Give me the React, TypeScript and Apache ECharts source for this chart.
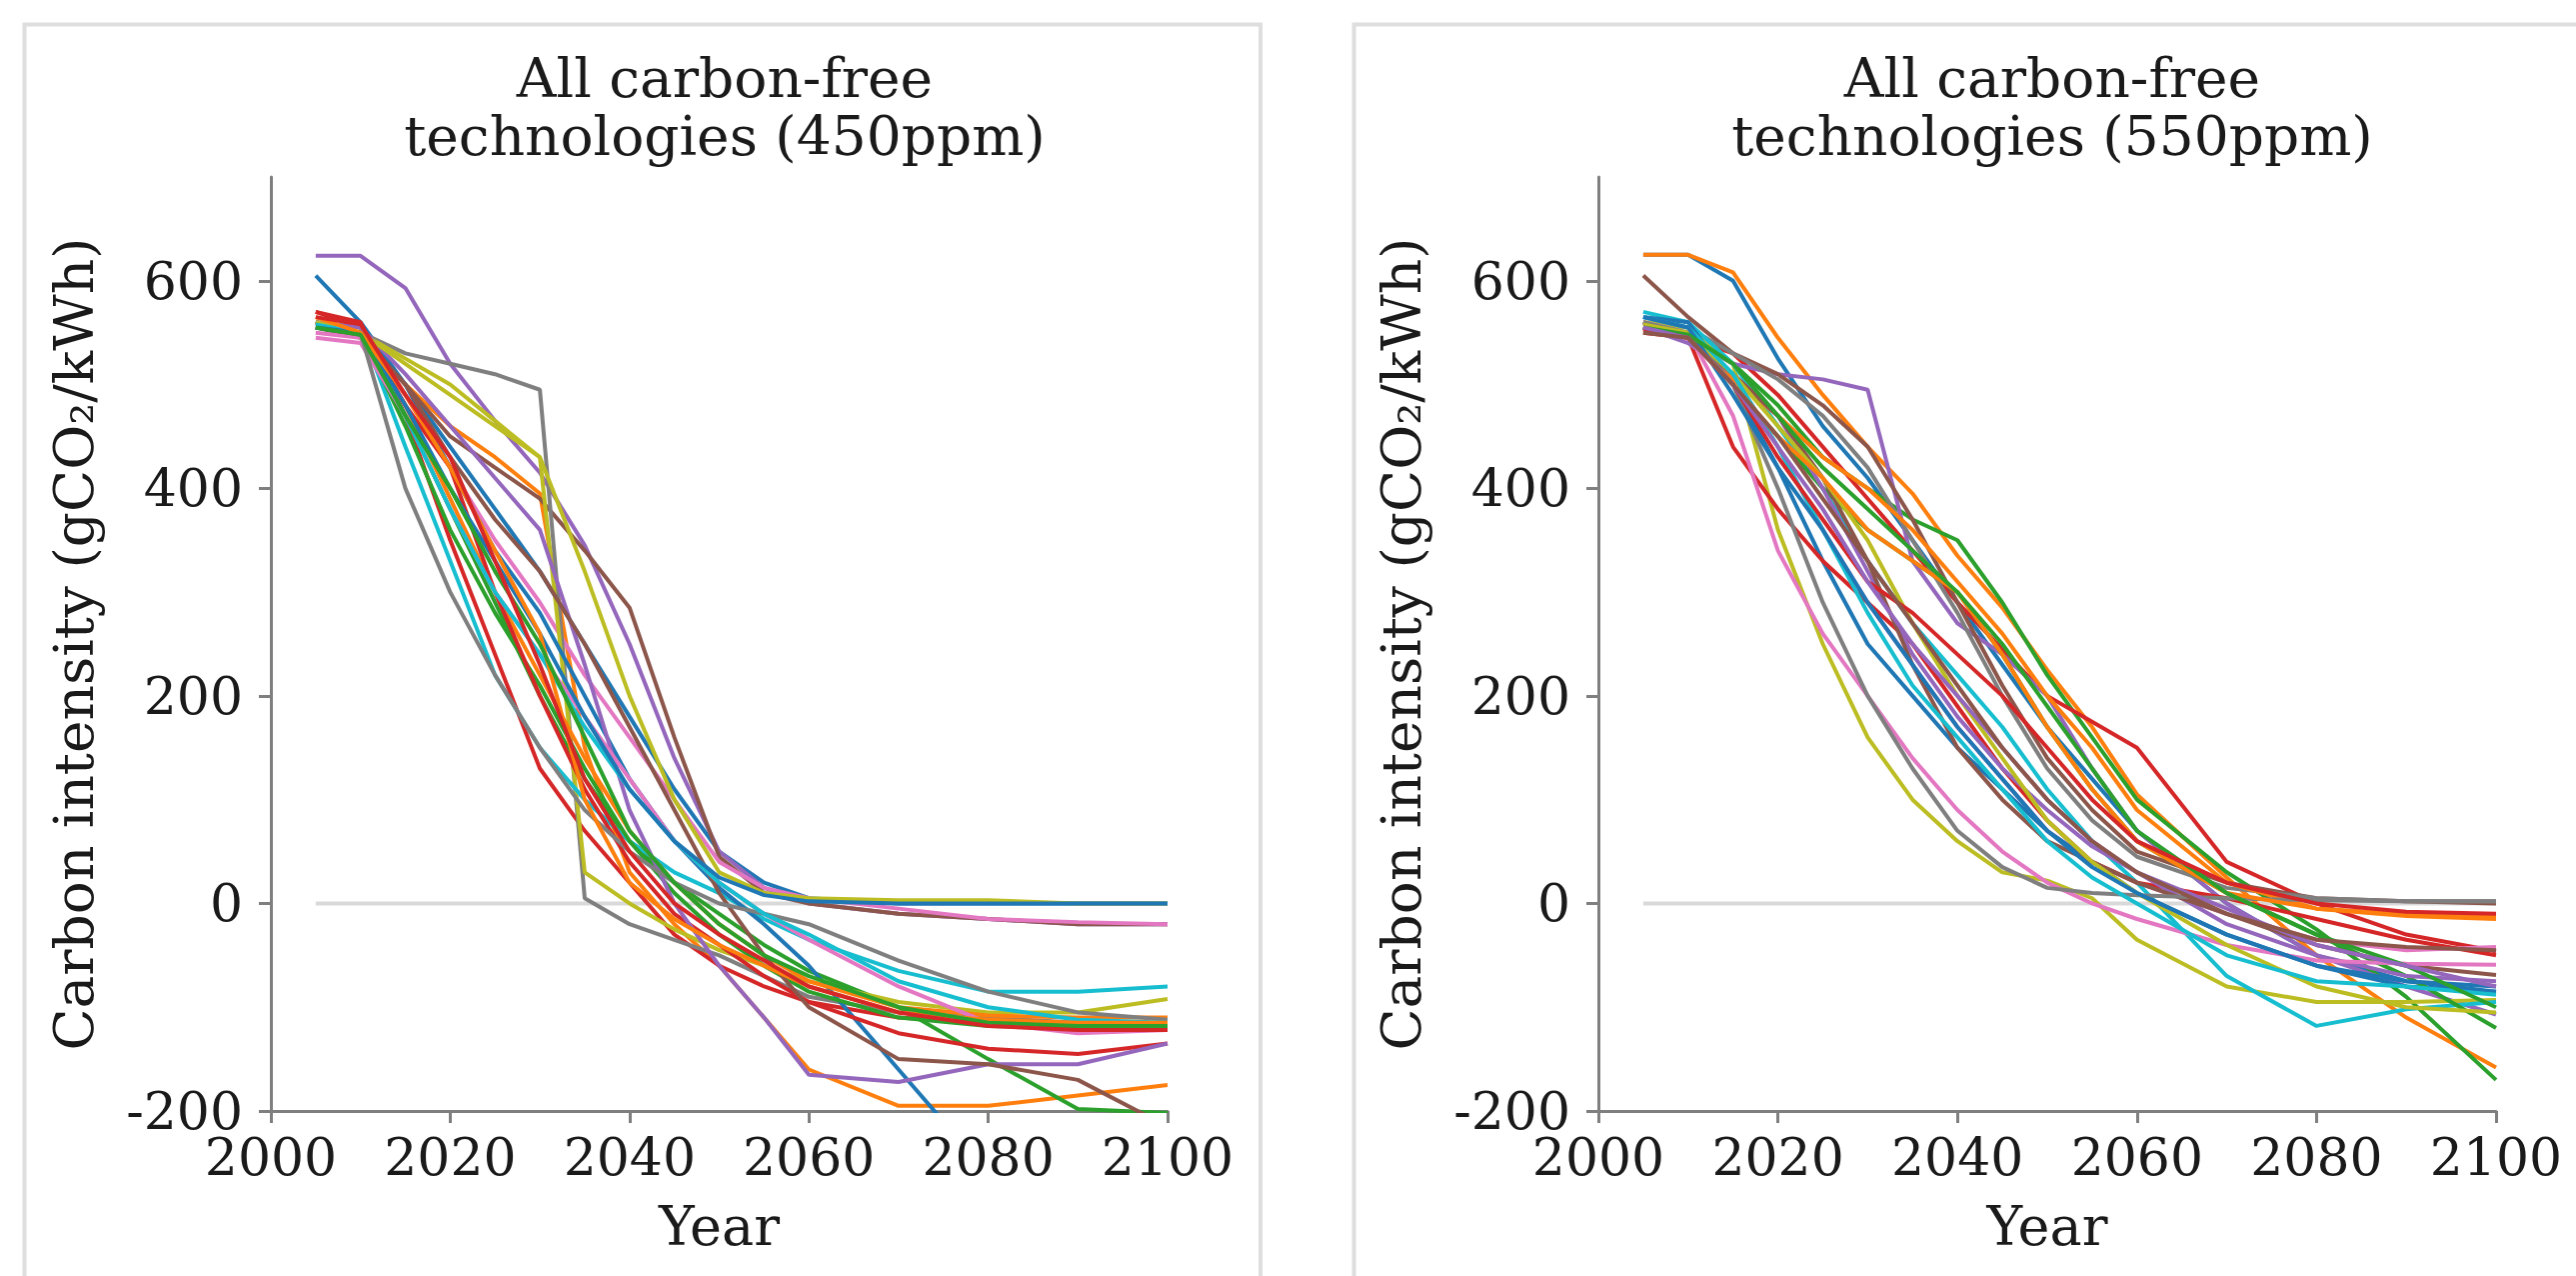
import React, { useEffect, useRef } from "react";
import * as echarts from "echarts";

const years = [2005, 2010, 2015, 2020, 2025, 2030, 2035, 2040, 2045, 2050, 2055, 2060, 2070, 2080, 2090, 2100];

const xTicks = [2000, 2020, 2040, 2060, 2080, 2100];
const yTicks = [-200, 0, 200, 400, 600];

const titles = ["All carbon-free\ntechnologies (450ppm)", "All carbon-free\ntechnologies (550ppm)"];

const tab10 = ["#1f77b4", "#ff7f0e", "#2ca02c", "#d62728", "#9467bd", "#8c564b", "#e377c2", "#7f7f7f", "#bcbd22", "#17becf"];

// 450ppm scenario paths (gCO2/kWh), one row per model run
const paths450 = [
  [605, 560, 500, 440, 380, 320, 250, 180, 110, 50, 20, 5, 0, 0, 0, 0],
  [560, 548, 500, 460, 430, 395, 150, 30, -20, -60, -110, -160, -195, -195, -185, -175],
  [555, 545, 470, 380, 290, 200, 120, 60, 20, -10, -40, -65, -100, -150, -198, -202],
  [570, 560, 470, 350, 240, 130, 70, 20, -30, -60, -80, -95, -110, -115, -120, -120],
  [624, 624, 593, 520, 465, 415, 345, 250, 140, 50, 15, 0, -10, -15, -20, -20],
  [560, 550, 500, 450, 420, 390, 340, 285, 160, 45, 10, 0, -10, -15, -20, -20],
  [550, 545, 490, 420, 350, 290, 220, 160, 100, 40, 15, 5, -5, -15, -18, -20],
  [555, 550, 530, 520, 510, 495, 5, -20, -35, -50, -70, -90, -105, -110, -115, -115],
  [560, 550, 525, 500, 465, 430, 30, 0, -25, -45, -60, -75, -95, -105, -105, -92],
  [560, 555, 440, 330, 220, 150, 100, 60, 30, 10, -15, -35, -65, -85, -85, -80],
  [560, 550, 500, 420, 340, 280, 200, 120, 60, 15, -20, -60, -160, -260, -320, -360],
  [560, 550, 480, 390, 300, 220, 140, 70, 20, -20, -50, -75, -100, -108, -110, -110],
  [555, 550, 460, 360, 280, 210, 130, 60, 10, -30, -60, -85, -110, -118, -120, -120],
  [570, 555, 480, 420, 300, 200, 110, 40, -10, -40, -70, -95, -125, -140, -145, -135],
  [560, 555, 510, 460, 410, 360, 230, 90, 0, -60, -110, -165, -172, -155, -155, -135],
  [555, 548, 500, 430, 370, 320, 250, 170, 90, 10, -50, -100, -150, -155, -170, -215],
  [545, 540, 470, 380, 300, 240, 180, 120, 60, 20, -10, -35, -80, -115, -125, -122],
  [555, 550, 400, 300, 220, 150, 90, 50, 20, 0, -10, -20, -55, -85, -105, -112],
  [560, 550, 520, 490, 460, 430, 320, 200, 100, 30, 10, 5, 3, 3, 0, 0],
  [558, 550, 470, 380, 300, 240, 170, 110, 60, 20, -10, -30, -75, -100, -112, -115],
  [555, 550, 480, 400, 330, 260, 180, 110, 60, 25, 8, 2, 0, 0, 0, 0],
  [565, 550, 490, 420, 340, 260, 100, 20, -15, -40, -60, -80, -105, -112, -115, -115],
  [555, 548, 470, 400, 320, 250, 160, 70, 20, -20, -50, -70, -100, -115, -118, -118],
  [565, 558, 490, 430, 330, 230, 120, 50, 0, -30, -55, -80, -105, -118, -122, -122],
];

// 550ppm scenario paths (gCO2/kWh), one row per model run
const paths550 = [
  [625, 625, 600, 525, 460, 410, 350, 290, 230, 170, 120, 70, 0, -50, -75, -85],
  [625, 625, 608, 545, 490, 440, 395, 335, 285, 225, 170, 105, 25, -50, -110, -158],
  [555, 545, 520, 480, 430, 400, 370, 350, 290, 220, 160, 100, 30, -25, -90, -170],
  [550, 545, 530, 490, 440, 390, 340, 290, 245, 200, 175, 150, 40, 0, -30, -46],
  [560, 545, 520, 510, 505, 495, 330, 270, 240, 200, 130, 70, 0, -50, -80, -107],
  [605, 565, 530, 510, 480, 440, 370, 290, 210, 140, 90, 50, 20, 5, 2, 0],
  [555, 548, 510, 440, 360, 290, 230, 170, 120, 70, 40, 20, -10, -35, -45, -42],
  [560, 555, 530, 505, 470, 420, 350, 280, 200, 130, 80, 45, 15, 5, 2, 2],
  [560, 555, 520, 360, 250, 160, 100, 60, 30, 22, 5, -35, -80, -95, -95, -93],
  [570, 560, 520, 460, 400, 330, 270, 220, 170, 110, 60, 20, -70, -118, -102, -95],
  [565, 560, 500, 420, 330, 250, 200, 150, 110, 70, 40, 10, -30, -60, -80, -85],
  [555, 545, 505, 470, 430, 400, 360, 310, 260, 200, 150, 90, 20, -5, -12, -15],
  [555, 545, 500, 450, 400, 360, 330, 300, 240, 170, 110, 60, 10, -30, -70, -120],
  [555, 545, 440, 380, 330, 290, 250, 190, 130, 80, 40, 20, 5, -15, -35, -50],
  [555, 540, 510, 470, 400, 320, 240, 180, 130, 90, 55, 30, -20, -50, -70, -75],
  [560, 545, 510, 470, 410, 330, 230, 150, 100, 60, 40, 20, -10, -40, -60, -69],
  [560, 550, 470, 340, 260, 200, 140, 90, 50, 20, 0, -15, -40, -55, -58, -59],
  [560, 550, 500, 400, 290, 200, 130, 70, 35, 15, 10, 8, 5, 3, 2, 2],
  [558, 550, 510, 460, 410, 350, 270, 200, 140, 80, 40, 10, -40, -80, -100, -105],
  [565, 555, 510, 440, 360, 280, 210, 160, 110, 60, 25, 0, -50, -75, -80, -88],
  [565, 555, 490, 420, 360, 290, 230, 170, 120, 70, 35, 10, -30, -60, -75, -80],
  [555, 545, 500, 450, 410, 360, 330, 300, 240, 170, 110, 60, 10, -5, -10, -12],
  [555, 548, 520, 470, 420, 380, 340, 300, 250, 190, 130, 70, 10, -30, -60, -100],
  [553, 545, 500, 430, 370, 310, 280, 240, 200, 150, 100, 60, 20, 0, -8, -10],
  [555, 545, 500, 440, 380, 310, 250, 200, 150, 100, 60, 30, -5, -40, -60, -80],
  [550, 545, 500, 450, 390, 330, 270, 210, 150, 100, 60, 30, -10, -35, -42, -45],
];

const zeroLine = [[2005, 0], [2100, 0]];

const FONT = "DejaVu Serif";
const TEXT = "#1a1a1a";
const AXIS = "#7f7f7f";

export default function App() {
  const ref = useRef<HTMLDivElement>(null);

  useEffect(() => {
    if (!ref.current) return;
    const chart = echarts.init(ref.current, null, { renderer: "svg" });

    const grids = [
      { left: 271, top: 177, width: 897, height: 934 },
      { left: 1599, top: 177, width: 898, height: 934 },
    ];

    const xAxes = grids.map((_, i) => ({
      type: "value",
      gridIndex: i,
      min: 2000,
      max: 2100,
      interval: 20,
      axisLine: { show: true, onZero: false, lineStyle: { color: AXIS, width: 3 } },
      axisTick: { show: true, length: 12, lineStyle: { color: AXIS, width: 3 }, customValues: xTicks },
      axisLabel: {
        fontFamily: FONT,
        fontSize: 52,
        color: TEXT,
        margin: 20,
        customValues: xTicks,
        formatter: (v: number) => String(v),
      },
      splitLine: { show: false },
      name: "Year",
      nameLocation: "middle",
      nameGap: 88,
      nameTextStyle: { fontFamily: FONT, fontSize: 54, color: TEXT },
    }));

    const yAxes = grids.map((_, i) => ({
      type: "value",
      gridIndex: i,
      min: -200,
      max: 700,
      interval: 200,
      axisLine: { show: true, onZero: false, lineStyle: { color: AXIS, width: 3 } },
      axisTick: { show: true, length: 12, lineStyle: { color: AXIS, width: 3 }, customValues: yTicks },
      axisLabel: {
        fontFamily: FONT,
        fontSize: 52,
        color: TEXT,
        margin: 28,
        customValues: yTicks,
        formatter: (v: number) => String(v),
      },
      splitLine: { show: false },
      name: "Carbon intensity (gCO₂/kWh)",
      nameLocation: "middle",
      nameGap: 170,
      nameRotate: 90,
      nameTextStyle: { fontFamily: FONT, fontSize: 55, color: TEXT },
    }));

    const series: any[] = [];
    [paths450, paths550].forEach((paths, gi) => {
      series.push({
        type: "line",
        xAxisIndex: gi,
        yAxisIndex: gi,
        data: zeroLine,
        showSymbol: false,
        silent: true,
        z: 1,
        lineStyle: { color: "#d9d9d9", width: 4 },
      });
      paths.forEach((vals, si) => {
        series.push({
          type: "line",
          xAxisIndex: gi,
          yAxisIndex: gi,
          data: years.map((y, k) => [y, vals[k]]),
          showSymbol: false,
          clip: true,
          z: 2,
          lineStyle: { color: tab10[si % 10], width: 4 },
        });
      });
    });

    chart.setOption({
      animation: false,
      backgroundColor: "#ffffff",
      title: titles.map((t, i) => ({
        text: t,
        left: i === 0 ? 720 : 2048,
        top: 44,
        textAlign: "center",
        textStyle: { fontFamily: FONT, fontSize: 55, fontWeight: "normal", color: TEXT, lineHeight: 58 },
      })),
      grid: grids,
      xAxis: xAxes,
      yAxis: yAxes,
      series,
      graphic: [
        { type: "rect", shape: { x: 24.5, y: 24.5, width: 1236.5, height: 1320 }, style: { fill: "none", stroke: "#dedede", lineWidth: 4 }, silent: true },
        { type: "rect", shape: { x: 1354.5, y: 24.5, width: 1300, height: 1320 }, style: { fill: "none", stroke: "#dedede", lineWidth: 4 }, silent: true },
      ],
    });

    return () => chart.dispose();
  }, []);

  return (
    <div
      ref={ref}
      style={{ position: "fixed", left: 0, top: 0, width: 2577, height: 1276, background: "#fff" }}
    />
  );
}
